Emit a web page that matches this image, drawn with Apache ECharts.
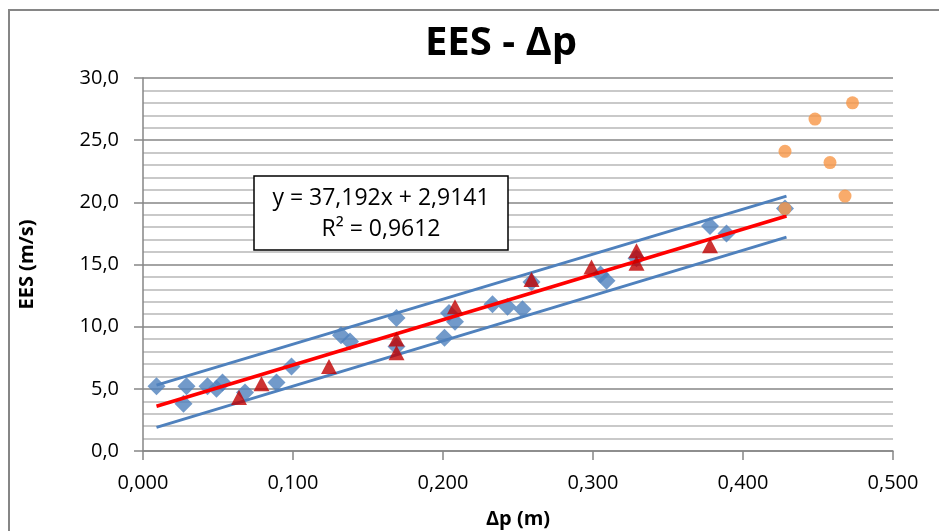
<!DOCTYPE html>
<html>
<head>
<meta charset="utf-8">
<script src="https://cdn.jsdelivr.net/npm/echarts@6/dist/echarts.min.js"></script>
<style>
  html, body { margin: 0; padding: 0; background: #fff; }
  #chart { width: 939px; height: 531px; }
</style>
</head>
<body>
<div id="chart"></div>
<script>
// blue diamonds
const blueX = [0.009, 0.027, 0.029, 0.043, 0.049, 0.053, 0.068, 0.089, 0.099, 0.132, 0.138, 0.169, 0.169,
  0.201, 0.204, 0.208, 0.233, 0.243, 0.253, 0.259, 0.305, 0.309, 0.329, 0.378, 0.389, 0.428]
const blueY = [5.2, 3.8, 5.2, 5.2, 5.0, 5.5, 4.7, 5.5, 6.8, 9.3, 8.8, 10.7, 8.4,
  9.1, 11.1, 10.4, 11.8, 11.6, 11.4, 13.6, 14.2, 13.7, 15.5, 18.1, 17.5, 19.5]
// red triangles
const redX = [0.064, 0.079, 0.124, 0.169, 0.169, 0.208, 0.259, 0.299, 0.329, 0.329, 0.378]
const redY = [4.3, 5.4, 6.8, 9.0, 7.9, 11.6, 13.8, 14.8, 16.1, 15.1, 16.5]
// orange circles
const orangeX = [0.473, 0.448, 0.428, 0.458, 0.468, 0.428]
const orangeY = [28.0, 26.7, 24.1, 23.2, 20.5, 19.5]
// trend line and bands (end points)
const lineX = [0.009, 0.429]
const trendY = [3.6, 18.9]
const upperY = [5.3, 20.5]
const lowerY = [1.9, 17.2]

const xTicks = ['0,000', '0,100', '0,200', '0,300', '0,400', '0,500']
const equation = 'y = 37,192x + 2,9141'
const rSquared = 'R² = 0,9612'

const pairs = (xs, ys) => xs.map((x, i) => [x, ys[i]])

const FONT = '"Open Sans", "Noto Sans", sans-serif'
const chart = echarts.init(document.getElementById('chart'), null, { renderer: 'canvas' })

const lineSeries = (name, ys, color, width, z) => ({
  name,
  type: 'line',
  data: pairs(lineX, ys),
  showSymbol: false,
  symbol: 'none',
  lineStyle: { color, width },
  z,
  silent: true
})

chart.setOption({
  animation: false,
  backgroundColor: '#fff',
  title: {
    text: 'EES - Δp',
    left: 496,
    top: 19,
    textAlign: 'center',
    textStyle: { fontFamily: FONT, fontSize: 40, fontWeight: 'bold', color: '#000' }
  },
  grid: { left: 143, right: 46, top: 78, bottom: 80, containLabel: false, outerBoundsMode: 'none' },
  xAxis: {
    type: 'value',
    min: 0,
    max: 0.5,
    interval: 0.1,
    name: 'Δp (m)',
    nameLocation: 'middle',
    nameGap: 58,
    nameTextStyle: { fontFamily: FONT, fontSize: 20, fontWeight: 'bold', color: '#000' },
    axisLine: { lineStyle: { color: '#868686', width: 1.5 } },
    axisTick: { show: true, length: 9, lineStyle: { color: '#868686', width: 1.5 } },
    axisLabel: {
      fontFamily: FONT, fontSize: 20, color: '#000', margin: 22,
      formatter: v => xTicks[Math.round(v * 10)]
    },
    splitLine: { show: false }
  },
  yAxis: {
    type: 'value',
    min: 0,
    max: 30,
    interval: 5,
    name: 'EES (m/s)',
    nameLocation: 'middle',
    nameGap: 106,
    nameTextStyle: { fontFamily: FONT, fontSize: 20, fontWeight: 'bold', color: '#000' },
    axisLine: { show: true, lineStyle: { color: '#868686', width: 1.5 } },
    axisTick: { show: true, length: 9, lineStyle: { color: '#868686', width: 1.5 } },
    axisLabel: {
      fontFamily: FONT, fontSize: 20, color: '#000', margin: 24,
      formatter: v => v.toFixed(1).replace('.', ',')
    },
    splitLine: { show: true, lineStyle: { color: '#868686', width: 1.5 } },
    minorTick: { show: false, splitNumber: 5 },
    minorSplitLine: { show: true, lineStyle: { color: '#b8b8b8', width: 1.5 } }
  },
  graphic: [
    {
      type: 'rect',
      shape: { x: 9, y: 10, width: 960, height: 560 },
      style: { fill: null, stroke: '#868686', lineWidth: 2 },
      silent: true,
      z: 100
    },
    {
      type: 'rect',
      shape: { x: 254, y: 176, width: 254, height: 74 },
      style: { fill: '#fff', stroke: '#000', lineWidth: 1.5 },
      z: 100
    },
    {
      type: 'text',
      x: 381, y: 198, z: 101,
      style: { text: equation, fontFamily: FONT, fontSize: 23, fill: '#000', align: 'center', verticalAlign: 'middle' }
    },
    {
      type: 'text',
      x: 381, y: 229, z: 101,
      style: { text: rSquared, fontFamily: FONT, fontSize: 23, fill: '#000', align: 'center', verticalAlign: 'middle' }
    }
  ],
  series: [
    lineSeries('upper', upperY, '#4f81bd', 3, 2),
    lineSeries('lower', lowerY, '#4f81bd', 3, 2),
    {
      name: 'EES',
      type: 'scatter',
      data: pairs(blueX, blueY),
      symbol: 'diamond',
      symbolSize: [18, 18],
      itemStyle: { color: '#4f81bd' },
      z: 3
    },
    lineSeries('trend', trendY, '#ff0000', 3.5, 4),
    {
      name: 'EES 2',
      type: 'scatter',
      data: pairs(redX, redY),
      symbol: 'triangle',
      symbolSize: [16, 15],
      itemStyle: { color: '#c00000' },
      z: 5
    },
    {
      name: 'EES 3',
      type: 'scatter',
      data: pairs(orangeX, orangeY),
      symbol: 'circle',
      symbolSize: 13,
      itemStyle: { color: '#f79646' },
      z: 6
    }
  ]
})
</script>
</body>
</html>
